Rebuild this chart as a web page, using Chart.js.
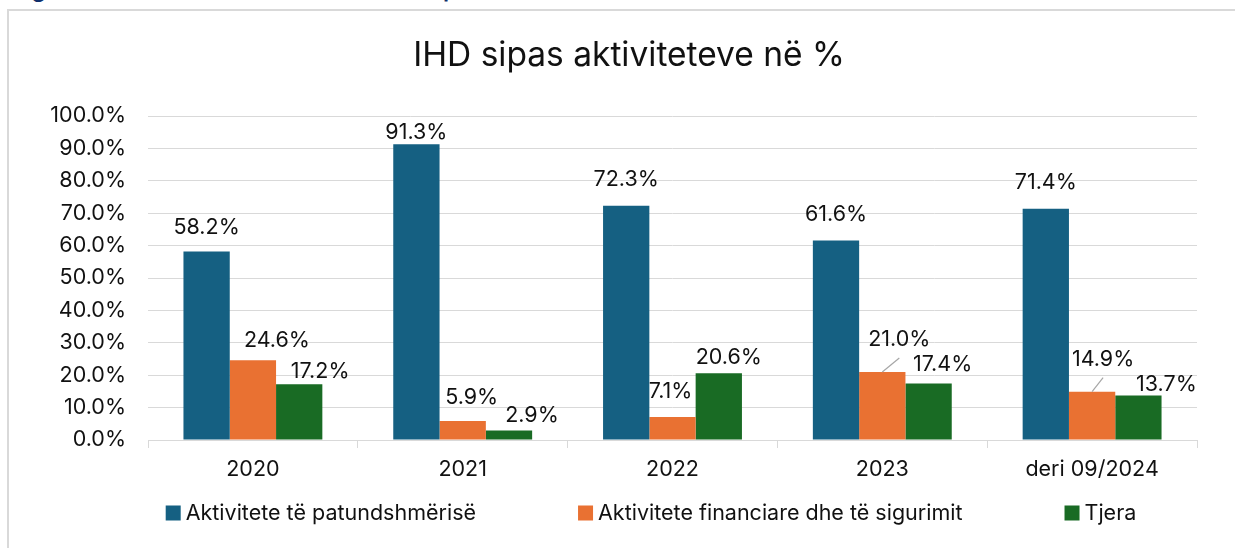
<!DOCTYPE html>
<html><head><meta charset="utf-8">
<script src="https://cdn.jsdelivr.net/npm/chart.js@4.4.1/dist/chart.umd.min.js"></script>
<style>
html,body{margin:0;padding:0;background:#fff;overflow:hidden}
#wrap{position:relative;width:1235px;height:548px;overflow:hidden;background:#fff}
#frame{position:absolute;left:7px;top:9px;width:1300px;height:600px;border:2px solid #d9d9d9;box-sizing:border-box}
#cap{position:absolute;left:12px;top:-24px;font:600 23px Inter;line-height:26px;color:#0f2f6b;white-space:nowrap}
canvas{position:absolute;left:0;top:0}
</style></head><body>
<div id="wrap"><div id="cap">Figura 6: Investimet e IHD në Kosovë sipas aktiviteteve ekonomike</div><div id="frame"></div><canvas id="c" width="1235" height="548"></canvas></div>
<script>
const chartTitle = 'IHD sipas aktiviteteve në %';
const categories = ['2020', '2021', '2022', '2023', 'deri 09/2024'];
const seriesNames = ['Aktivitete të patundshmërisë', 'Aktivitete financiare dhe të sigurimit', 'Tjera'];
const realEstate = [58.2, 91.3, 72.3, 61.6, 71.4];
const financial = [24.6, 5.9, 7.1, 21.0, 14.9];
const other = [17.2, 2.9, 20.6, 17.4, 13.7];
const yTickValues = [0, 10, 20, 30, 40, 50, 60, 70, 80, 90, 100];

const colors = ['#156082', '#E97132', '#196B24'];
const FONT = 'Inter';
const TEXT = '#111111';
const FS = 21.5;

// label placement (style): [dx, gap above bar top] per series / category
const labelOffsets = [
  [[0,24],[0,12],[0,26],[0,26],[0,26]],
  [[24,20],[9,23],[-2,25],[17,32],[11,32]],
  [[21,13],[23,15],[10,16],[14,19],[28,11]]
];
const leaderLines = [[1,3],[1,4]];

const dataLabelPlugin = {
  id: 'dataLabels',
  afterDatasetsDraw(chart) {
    const ctx = chart.ctx;
    ctx.save();
    ctx.font = FS + 'px ' + FONT;
    ctx.textAlign = 'center';
    ctx.textBaseline = 'middle';
    chart.data.datasets.forEach((ds, i) => {
      const meta = chart.getDatasetMeta(i);
      meta.data.forEach((el, j) => {
        const off = labelOffsets[i][j];
        const x = el.x + off[0];
        const y = el.y - off[1];
        if (leaderLines.some(l => l[0] === i && l[1] === j)) {
          ctx.strokeStyle = '#a6a6a6';
          ctx.lineWidth = 1.2;
          ctx.beginPath();
          ctx.moveTo(el.x, el.y);
          ctx.lineTo(x, y + 18);
          ctx.stroke();
        }
        ctx.fillStyle = TEXT;
        ctx.fillText(ds.data[j].toFixed(1) + '%', x, y);
      });
    });
    ctx.restore();
  }
};

const titleLegendPlugin = {
  id: 'titleLegend',
  afterDraw(chart) {
    const ctx = chart.ctx;
    ctx.save();
    ctx.fillStyle = TEXT;
    ctx.font = '33.5px ' + FONT;
    ctx.textAlign = 'center';
    ctx.textBaseline = 'middle';
    ctx.fillText(chartTitle, 629, 56);
    // legend
    ctx.font = FS + 'px ' + FONT;
    ctx.textAlign = 'left';
    const box = 15, boxGap = 5, itemGap = 102;
    const widths = chart.data.datasets.map(d => box + boxGap + ctx.measureText(d.label).width);
    const total = widths.reduce((a, b) => a + b, 0) + itemGap * (widths.length - 1);
    let x = 651 - total / 2;
    const yc = 513;
    chart.data.datasets.forEach((d, i) => {
      ctx.fillStyle = d.backgroundColor;
      ctx.fillRect(x, yc - box / 2, box, box);
      ctx.fillStyle = TEXT;
      ctx.fillText(d.label, x + box + boxGap, yc + 1);
      x += widths[i] + itemGap;
    });
    ctx.restore();
  }
};

new Chart(document.getElementById('c'), {
  type: 'bar',
  data: {
    labels: categories,
    datasets: [
      { label: seriesNames[0], data: realEstate, backgroundColor: colors[0] },
      { label: seriesNames[1], data: financial, backgroundColor: colors[1] },
      { label: seriesNames[2], data: other, backgroundColor: colors[2] }
    ]
  },
  options: {
    responsive: false,
    animation: false,
    devicePixelRatio: 1,
    layout: { padding: { top: 116, right: 38, bottom: 66, left: 0 } },
    datasets: { bar: { categoryPercentage: 0.662, barPercentage: 1.0, borderWidth: 0 } },
    plugins: { legend: { display: false }, title: { display: false }, tooltip: { enabled: false } },
    scales: {
      x: {
        grid: { offset: true, drawOnChartArea: false, drawTicks: true, tickLength: 8, color: '#d9d9d9' },
        border: { display: true, color: '#d9d9d9', width: 1 },
        ticks: { color: TEXT, font: { family: FONT, size: FS }, padding: 9, maxRotation: 0 },
        afterFit(s) { s.height = 42; }
      },
      y: {
        min: 0, max: 100,
        afterBuildTicks(s) { s.ticks = yTickValues.map(v => ({ value: v })); },
        grid: { color: '#d9d9d9', lineWidth: 1, drawTicks: false },
        border: { display: false },
        ticks: { color: TEXT, font: { family: FONT, size: FS }, padding: 22, callback: v => v.toFixed(1) + '%' },
        afterFit(s) { s.width = 148; }
      }
    }
  },
  plugins: [dataLabelPlugin, titleLegendPlugin]
});
</script>
</body></html>
